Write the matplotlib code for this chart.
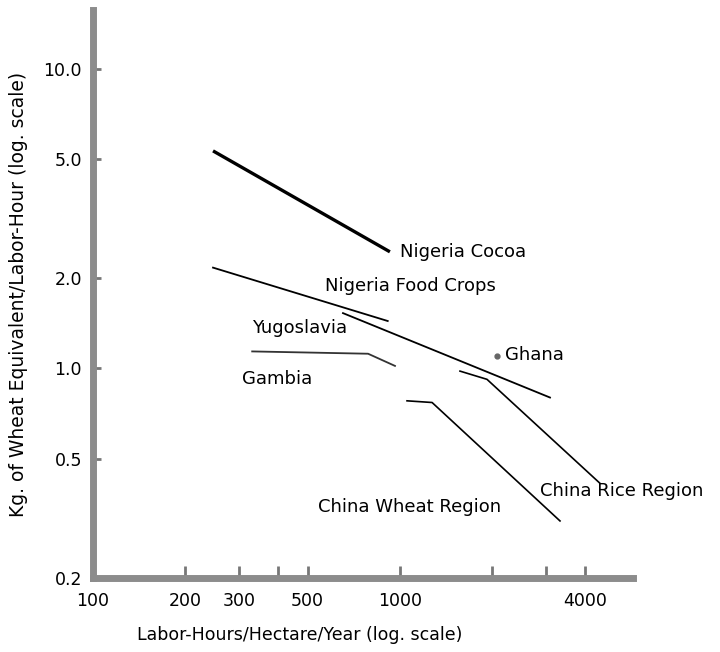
import numpy as np
import matplotlib
matplotlib.use('Agg')
import matplotlib.pyplot as plt
from matplotlib.ticker import FixedLocator, FixedFormatter, NullLocator

# data (labor-hours/ha/yr, kg wheat equiv / labor-hour)
cocoa_x = [246, 927]
cocoa_y = [5.32, 2.45]
food_x = [246, 912]
food_y = [2.17, 1.44]
yugo_x = [652, 3080]
yugo_y = [1.53, 0.80]
gambia_x = [330, 787, 963]
gambia_y = [1.14, 1.12, 1.02]
ghana_x = [2070]
ghana_y = [1.10]
rice_x = [1568, 1920, 4480]
rice_y = [0.98, 0.92, 0.414]
wheat_x = [1054, 1272, 3320]
wheat_y = [0.78, 0.77, 0.31]

# series labels and where they sit
labels = ['Nigeria Cocoa', 'Nigeria Food Crops', 'Yugoslavia', 'Gambia',
          'Ghana', 'China Rice Region', 'China Wheat Region']
label_x = [1000, 570, 330, 306, 2200, 2858, 541]
label_y = [2.45, 1.88, 1.36, 0.92, 1.11, 0.39, 0.345]

xticks = [100, 200, 300, 400, 500, 1000, 2000, 3000, 4000]
xticklabels = ['100', '200', '300', '', '500', '1000', '', '', '4000']
yticks = [0.2, 0.5, 1.0, 2.0, 5.0, 10.0]
yticklabels = ['0.2', '0.5', '1.0', '2.0', '5.0', '10.0']

plt.rcParams['font.family'] = ['DejaVu Sans']

fig = plt.figure(figsize=(7.2, 6.52), dpi=100)
ax = fig.add_axes([93 / 720, 1 - 578 / 652, 540 / 720, 568 / 652])
ax.set_xscale('log')
ax.set_yscale('log')
ax.set_xlim(100, 5740)
ax.set_ylim(0.2, 15.7)

ax.plot(cocoa_x, cocoa_y, color='black', lw=2.4, solid_capstyle='butt')
ax.plot(food_x, food_y, color='black', lw=1.3)
ax.plot(yugo_x, yugo_y, color='black', lw=1.3)
ax.plot(gambia_x, gambia_y, color='#333333', lw=1.3)
ax.plot(rice_x, rice_y, color='black', lw=1.2)
ax.plot(wheat_x, wheat_y, color='black', lw=1.2)
ax.plot(ghana_x, ghana_y, 'o', color='#666666', ms=3.5)

for i in range(len(labels)):
    ax.text(label_x[i], label_y[i], labels[i], fontsize=13, ha='left', va='center',
            clip_on=False)

for side in ['top', 'right']:
    ax.spines[side].set_visible(False)
for side in ['left', 'bottom']:
    ax.spines[side].set_color('#8c8c8c')
    ax.spines[side].set_linewidth(5)

ax.xaxis.set_major_locator(FixedLocator(xticks))
ax.xaxis.set_major_formatter(FixedFormatter(xticklabels))
ax.xaxis.set_minor_locator(NullLocator())
ax.yaxis.set_major_locator(FixedLocator(yticks))
ax.yaxis.set_major_formatter(FixedFormatter(yticklabels))
ax.yaxis.set_minor_locator(NullLocator())
ax.tick_params(axis='x', direction='in', length=9, width=2, color='#777777',
               labelsize=12.5, pad=10)
ax.tick_params(axis='y', direction='in', length=6, width=2, color='#777777',
               labelsize=12.5, pad=8)

ax.set_xlabel('Labor-Hours/Hectare/Year (log. scale)', fontsize=12.5)
ax.xaxis.set_label_coords(0.383, -0.085)
ax.set_ylabel('Kg. of Wheat Equivalent/Labor-Hour (log. scale)', fontsize=13.5)
ax.yaxis.set_label_coords(-0.12, 0.5)

fig.savefig('out.png', dpi=100)
